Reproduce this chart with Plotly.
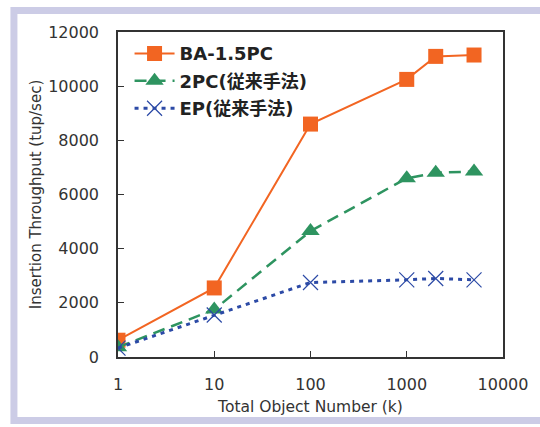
import plotly.graph_objects as go

x_vals = [1, 10, 100, 1000, 2000, 5000]
ba_15pc = [620, 2550, 8600, 10250, 11100, 11150]
pc2 = [360, 1750, 4650, 6600, 6800, 6850]
ep = [330, 1550, 2750, 2850, 2900, 2850]
names = ["BA-1.5PC", "2PC(従来手法)", "EP(従来手法)"]
y_ticks = [0, 2000, 4000, 6000, 8000, 10000, 12000]
x_ticks = [1, 10, 100, 1000, 10000]

W, H = 540, 427
L, R, T, B = 118, 512, 32, 357

FONT = "DejaVu Sans, Noto Sans CJK JP, sans-serif"

fig = go.Figure()
fig.add_trace(go.Scatter(x=x_vals, y=ba_15pc, name=names[0], mode="lines+markers",
                         legendgroup="a",
                         line=dict(color="#f26522", width=2),
                         marker=dict(symbol="square", size=15, color="#f26522")))
fig.add_trace(go.Scatter(x=x_vals, y=pc2, name=names[1], mode="lines+markers",
                         legendgroup="b",
                         line=dict(color="#2e9460", width=2.5, dash="12px,7px"),
                         marker=dict(symbol="triangle-up", size=16, color="#2e9460")))
fig.add_trace(go.Scatter(x=x_vals, y=ep, name=names[2], mode="lines+markers",
                         legendgroup="c",
                         line=dict(color="#2c4aa6", width=3, dash="4px,5px"),
                         marker=dict(symbol="x-thin-open", size=15,
                                     line=dict(color="#2c4aa6", width=1.2))))

def px_to_paper_x(px):
    return (px - L) / (R - L)

def px_to_paper_y(py):
    return (B - py) / (B - T)

fig.add_shape(type="rect", xref="paper", yref="paper",
              x0=px_to_paper_x(11.5), x1=px_to_paper_x(580),
              y0=px_to_paper_y(420.5), y1=px_to_paper_y(10.5),
              line=dict(color="#cccce6", width=7), fillcolor="rgba(0,0,0,0)",
              layer="below")

fig.update_layout(
    width=W, height=H,
    margin=dict(l=L, r=W - R, t=T, b=H - B),
    paper_bgcolor="white", plot_bgcolor="white",
    font=dict(family=FONT, size=16, color="#333333"),
    showlegend=True,
    legend=dict(x=0.03, y=0.99, xanchor="left", yanchor="top",
                bgcolor="rgba(0,0,0,0)",
                font=dict(family=FONT, size=18, color="#222222", weight="bold"),
                tracegroupgap=1, itemwidth=40),
    xaxis=dict(type="log", range=[0, 4], tickvals=x_ticks,
               ticktext=[str(v) for v in x_ticks],
               ticks="inside", ticklen=6, tickcolor="#333333",
               showgrid=False, zeroline=False,
               showline=True, linecolor="#333333", linewidth=1.5, mirror=True,
               tickfont=dict(size=16), ticklabelstandoff=12,
               title=dict(text="Total Object Number (k)", font=dict(size=15.5), standoff=8)),
    yaxis=dict(range=[0, 12000], tickvals=y_ticks,
               ticktext=[str(v) for v in y_ticks],
               ticks="inside", ticklen=6, tickcolor="#333333",
               showgrid=False, zeroline=False,
               showline=True, linecolor="#333333", linewidth=1.5, mirror=True,
               tickfont=dict(size=16), ticklabelstandoff=14,
               title=dict(text="Insertion Throughput (tup/sec)", font=dict(size=15), standoff=3)),
)

fig.write_html("out.html")
